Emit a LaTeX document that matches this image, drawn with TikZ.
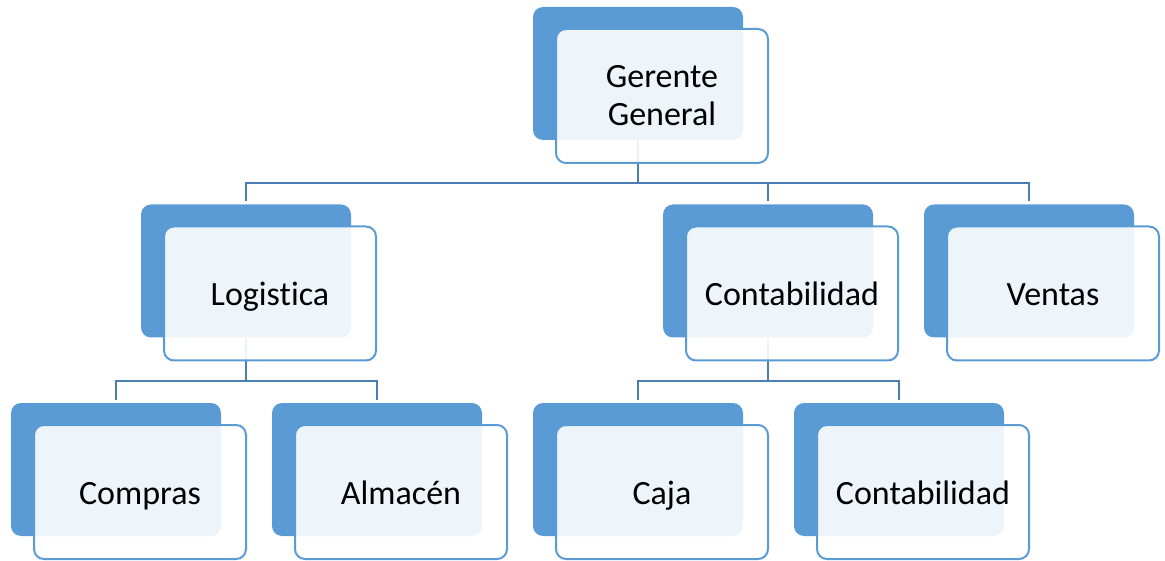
\documentclass[tikz,border=0pt]{standalone}
\usepackage{fontspec}
\setmainfont[RawFeature=-liga]{Carlito}
\usetikzlibrary{backgrounds}
\definecolor{boxblue}{HTML}{5B9BD5}
\definecolor{linkblue}{HTML}{4A7EB0}

\begin{document}
\begin{tikzpicture}[x=1pt,y=-1pt,
	back/.style={fill=boxblue,rounded corners=10pt,minimum width=210pt,minimum height=133pt,inner sep=0pt},
	front/.style={draw=boxblue,line width=2pt,fill=white,fill opacity=0.9,text opacity=1,rounded corners=10pt,
		minimum width=212pt,minimum height=134pt,inner sep=0pt,align=center,
		font=\fontsize{34}{38}\selectfont},
	oneline/.style={text height=29pt,text depth=4pt},
	twolines/.style={},
	link/.style={draw=linkblue,line width=2.2pt}]
	\useasboundingbox (0,0) rectangle (1165,561);
	\foreach \n/\x/\y/\o/\t in {ger/638/73.5/twolines/{Gerente\\General},
		log/246/271/oneline/Logistica, cont/768/271/oneline/Contabilidad, ven/1029/271/oneline/Ventas,
		com/116/469.5/oneline/Compras, alm/377/469.5/oneline/Almacén, caja/638/469.5/oneline/Caja,
		conta/899/469.5/oneline/Contabilidad}
	{
		\node[back] (\n B) at (\x,\y) {};
		\node[front,\o] (\n) at ([xshift=24pt,yshift=-22.5pt]\n B.center) {\t};
	}
	\coordinate (busA) at (638,183);
	\coordinate (busB) at (246,381);
	\coordinate (busC) at (768,381);
	\begin{scope}[on background layer]
		\draw[link] (gerB.south) -- (busA);
		\foreach \c in {logB,contB,venB}
			\draw[link] (busA) -| ([yshift=3pt]\c.north);
		\draw[link] (logB.south) -- (busB);
		\foreach \c in {comB,almB}
			\draw[link] (busB) -| ([yshift=3pt]\c.north);
		\draw[link] (contB.south) -- (busC);
		\foreach \c in {cajaB,contaB}
			\draw[link] (busC) -| ([yshift=3pt]\c.north);
	\end{scope}
\end{tikzpicture}
\end{document}
